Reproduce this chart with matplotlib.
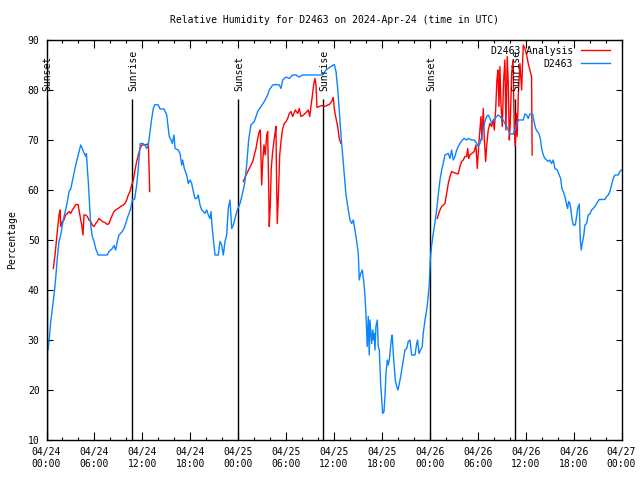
import matplotlib
matplotlib.use("Agg")
import matplotlib.pyplot as plt
from matplotlib.ticker import MultipleLocator

plt.rcParams['font.family'] = ['DejaVu Sans Mono']
plt.rcParams['font.size'] = 7

# hours since 2024-04-24 00:00 UTC
obs_hours = [
    0.19, 0.31, 0.53, 0.73, 0.94, 1.15, 1.35, 1.56, 1.78, 1.98, 2.19, 2.40, 2.60, 2.82,
    3.03, 3.23, 3.44, 3.66, 3.86, 4.07, 4.28, 4.48, 4.69, 4.91, 5.00, 5.11, 5.23, 5.53,
    5.73, 5.95, 6.16, 6.45, 7.61, 7.82, 8.24, 8.45, 8.66, 8.86, 9.08, 9.49, 9.70, 9.92,
    10.12, 10.33, 10.54, 10.74, 11.04, 11.29, 11.49, 11.74, 12.08, 12.33, 12.55, 12.75,
    12.96, 13.12, 13.27, 13.37, 13.58, 14.00, 14.21, 14.71, 15.05, 15.25, 15.37, 15.59,
    15.75, 15.96, 16.09, 16.50, 16.71, 16.93, 17.05, 17.25, 17.55, 17.75, 17.97, 18.18,
    18.38, 18.59, 18.80, 19.00, 19.22, 19.43, 19.63, 19.84, 20.06, 20.26, 20.47, 20.60,
    20.72, 20.88, 21.10, 21.51, 21.72, 21.93, 22.14, 22.35, 22.56, 22.76, 22.97, 23.19,
    23.39, 23.60, 23.89, 24.23, 24.64, 24.85, 25.06, 25.31, 25.60, 26.02, 26.44, 26.86,
    27.27, 27.69, 27.89, 28.32, 28.73, 29.15, 29.36, 29.57, 29.99, 30.40, 30.82, 31.24,
    31.60, 32.08, 32.49, 33.33, 33.95, 34.58, 34.99, 35.62, 36.03, 36.25, 36.46, 36.66,
    36.87, 37.08, 37.28, 37.50, 37.79, 38.00, 38.21, 38.41, 38.62, 38.84, 39.04, 39.16,
    39.34, 39.54, 39.75, 39.88, 40.00, 40.16, 40.29, 40.41, 40.50, 40.71, 40.84, 40.91,
    41.04, 41.13, 41.25, 41.42, 41.54, 41.67, 41.84, 41.97, 42.09, 42.26, 42.38, 42.51,
    42.67, 42.79, 42.92, 43.04, 43.17, 43.29, 43.42, 43.54, 43.67, 43.85, 44.01, 44.17,
    44.35, 44.51, 44.67, 44.88, 45.10, 45.30, 45.51, 45.72, 46.14, 46.35, 46.47, 46.64,
    46.85, 47.05, 47.17, 47.39, 47.60, 47.80, 47.93, 48.05, 48.23, 48.43, 48.64, 48.85,
    49.05, 49.27, 49.48, 49.68, 49.89, 50.31, 50.52, 50.73, 50.93, 51.14, 51.36, 51.56,
    51.77, 52.06, 52.31, 52.61, 52.81, 53.24, 53.56, 53.86, 54.06, 54.27, 54.49, 54.69,
    54.90, 55.11, 55.31, 55.53, 55.74, 55.94, 56.15, 56.36, 56.57, 56.78, 56.99, 57.19,
    57.40, 57.62, 57.82, 58.03, 58.44, 58.66, 58.87, 59.07, 59.28, 59.70, 59.91, 60.12,
    60.32, 60.53, 60.87, 61.04, 61.25, 61.45, 61.66, 61.87, 62.00, 62.20, 62.41, 62.63,
    62.83, 63.04, 63.25, 63.45, 63.66, 63.95, 64.20, 64.38, 64.54, 64.70, 64.92, 65.13,
    65.25, 65.38, 65.54, 65.67, 65.79, 65.96, 66.21, 66.38, 66.51, 66.71, 66.83, 66.96,
    67.08, 67.26, 67.42, 67.63, 67.83, 68.05, 68.26, 68.46, 68.67, 68.88, 69.21, 69.92,
    70.13, 70.34, 70.55, 70.76, 70.96, 71.18, 71.59, 71.80, 71.96,
]
obs_rh = [
    28.0, 29.7, 33.7, 36.4, 39.0, 42.4, 46.4, 49.7, 51.0, 53.0, 54.7, 56.0, 57.7, 59.7,
    60.2, 61.7, 63.4, 65.0, 66.3, 67.7, 69.0, 68.3, 67.4, 66.7, 67.3, 64.3, 61.7, 53.0,
    50.7, 49.7, 48.3, 47.0, 47.0, 47.7, 48.3, 48.9, 48.0, 49.7, 51.0, 51.7, 52.3, 53.3,
    54.4, 55.3, 56.3, 58.0, 58.2, 61.0, 64.3, 69.3, 69.3, 69.0, 68.3, 69.0,
    71.7, 73.7, 75.2, 76.3, 77.1, 77.0, 76.2, 76.2, 75.0, 72.3, 70.7, 70.0,
    69.3, 71.0, 68.3, 68.0, 67.3, 65.0, 66.0, 64.3, 63.0, 61.3, 62.0, 61.3,
    59.7, 58.3, 58.3, 59.0, 57.0, 56.0, 55.7, 55.3, 56.0, 55.0, 54.3, 55.7,
    53.0, 50.3, 47.0, 47.0, 49.7, 49.0, 47.0, 49.7, 51.0, 56.3, 58.0, 52.3,
    53.0, 54.3, 56.0, 57.3, 60.0, 61.7, 65.0, 70.0, 73.0, 73.7, 75.7, 76.7,
    77.7, 79.0, 80.0, 81.0, 81.1, 81.0, 80.3, 82.0, 82.6, 82.3, 83.0, 83.0,
    82.6, 83.0, 83.0, 83.0, 83.0, 83.0, 84.0, 84.7, 85.1, 83.7, 80.3, 75.7,
    71.0, 67.0, 63.0, 59.0, 56.0, 54.0, 53.3, 54.0, 52.0, 49.7, 47.3, 42.0,
    43.3, 44.0, 41.3, 38.7, 35.3, 28.7, 34.7, 27.0, 34.0, 29.3, 32.0, 30.0,
    31.3, 28.0, 32.7, 34.0, 28.7, 28.0, 21.3, 18.0, 15.3, 15.7, 18.7, 23.3,
    26.0, 25.0, 26.0, 28.0, 30.0, 31.0, 27.3, 24.7, 22.0, 20.7, 20.0, 21.3,
    22.7, 24.3, 26.0, 28.0, 28.3, 29.7, 30.0, 27.0, 27.0, 29.3, 30.0, 27.3,
    28.0, 28.7, 31.3, 34.0, 36.0, 38.7, 41.3, 46.0, 49.0, 51.3, 53.5, 56.0,
    59.0, 62.0, 64.0, 65.3, 67.0, 67.3, 66.3, 68.0, 66.0, 66.7, 68.0, 68.7,
    69.3, 70.0, 70.3, 70.0, 70.3, 70.0, 70.0, 69.3, 68.7, 69.3, 70.7, 72.3,
    73.7, 74.7, 75.0, 74.3, 73.3, 74.0, 74.3, 74.7, 75.0, 74.7, 74.3, 74.0,
    73.3, 72.7, 72.0, 71.2, 71.2, 72.0, 73.0, 74.0, 74.0, 74.0, 75.2, 75.0,
    74.3, 75.2, 75.2, 73.7, 72.3, 71.7, 71.3, 70.0, 68.3, 67.0, 66.3, 66.0,
    65.7, 66.0, 65.3, 66.0, 64.3, 64.0, 63.0, 62.3, 60.3, 59.7, 58.7, 57.0,
    56.3, 57.7, 57.3, 56.0, 54.3, 53.0, 53.0, 54.7, 56.3, 57.2, 50.3, 48.0,
    49.3, 50.7, 53.0, 53.3, 55.0, 55.2, 56.0, 56.3, 56.7, 57.3, 58.1, 58.1,
    58.7, 59.0, 59.7, 61.0, 62.3, 63.0, 63.0, 63.7, 64.0,
]

# analysis series, three separate runs
ana1_hours = [
    0.85, 1.06, 1.23, 1.35, 1.48, 1.56, 1.69, 1.78, 1.98, 2.19, 2.40, 2.60, 2.82, 3.03,
    3.23, 3.44, 3.66, 3.94, 4.07, 4.28, 4.41, 4.57, 4.69, 4.91, 5.11, 5.32, 5.53, 5.73,
    5.95, 6.16, 6.36, 6.57, 6.79, 6.99, 7.29, 7.61, 7.83, 8.04, 8.24, 8.45, 8.66, 8.95,
    9.29, 9.62, 9.83, 10.04, 10.24, 10.45, 10.62, 10.87, 11.08, 11.29, 11.49, 11.71,
    11.92, 12.21, 12.55, 12.75, 12.83, 12.92,
]
ana1_rh = [
    44.3, 47.0, 49.7, 51.7, 53.7, 55.0, 56.0, 52.7, 53.7, 54.0, 55.0, 55.3, 55.7, 55.3,
    56.0, 56.5, 57.1, 57.1, 56.0, 54.0, 53.0, 51.0, 55.0, 55.0, 54.7, 54.0, 53.7, 53.0,
    52.7, 53.3, 53.7, 54.3, 54.0, 53.7, 53.5, 53.1, 53.3, 54.2, 55.0, 55.7, 56.0, 56.3,
    56.7, 57.0, 57.3, 58.0, 59.0, 59.7, 60.7, 62.0, 64.0, 65.7, 67.0, 68.3,
    69.0, 69.0, 69.1, 69.3, 65.0, 59.7,
]
ana2_hours = [
    24.64, 24.98, 25.39, 25.82, 26.02, 26.23, 26.44, 26.64, 26.77, 26.94, 27.07, 27.23,
    27.39, 27.57, 27.69, 27.82, 27.89, 28.02, 28.14, 28.32, 28.52, 28.65, 28.73, 28.82,
    28.90, 29.02, 29.20, 29.36, 29.57, 29.77, 29.99, 30.20, 30.40, 30.61, 30.82, 31.15,
    31.45, 31.65, 31.86, 32.20, 32.49, 32.78, 32.96, 33.08, 33.24, 33.45, 33.62, 33.74,
    33.87, 34.15, 34.49, 34.78, 35.08, 35.41, 35.71, 35.91, 36.03, 36.25, 36.46, 36.66,
    36.87,
]
ana2_rh = [
    61.7, 63.0, 64.3, 65.7, 67.0, 68.3, 70.3, 71.7, 72.0, 61.0, 65.7, 69.0,
    67.0, 71.0, 71.7, 60.3, 52.7, 57.0, 64.3, 67.7, 70.3, 71.7, 72.7, 60.3,
    53.3, 58.3, 67.0, 69.7, 72.3, 73.3, 73.7, 74.3, 75.3, 75.7, 74.7, 76.0,
    75.3, 76.3, 74.7, 75.0, 75.5, 76.0, 74.7, 76.3, 78.3, 81.0, 82.3, 81.0,
    76.5, 76.7, 76.9, 76.7, 76.9, 77.1, 77.7, 78.5, 76.3, 74.3, 72.7, 70.3,
    69.3,
]
ana3_hours = [
    48.93, 49.05, 49.27, 49.48, 49.68, 49.89, 50.11, 50.31, 50.52, 50.73, 50.93, 51.36,
    51.56, 51.77, 51.98, 52.18, 52.40, 52.61, 52.74, 52.86, 53.02, 53.24, 53.56, 53.77,
    53.94, 54.11, 54.27, 54.40, 54.52, 54.69, 54.81, 54.99, 55.11, 55.31, 55.53, 55.74,
    55.94, 56.07, 56.24, 56.40, 56.53, 56.65, 56.78, 56.90, 57.07, 57.24, 57.40, 57.53,
    57.69, 57.82, 57.95, 58.07, 58.24, 58.41, 58.57, 58.69, 58.82, 58.94, 59.07, 59.28,
    59.49, 59.70, 59.91, 60.12, 60.32, 60.53, 60.74, 60.81,
]
ana3_rh = [
    54.3, 55.0, 56.0, 56.7, 57.0, 57.3, 59.3, 61.3, 62.7, 63.7, 63.5, 63.3,
    63.2, 64.7, 65.7, 66.0, 66.7, 66.7, 68.3, 66.3, 67.0, 67.3, 67.7, 69.0,
    64.3, 68.7, 72.0, 74.7, 70.0, 76.3, 70.7, 65.7, 68.7, 72.0, 73.3, 72.7,
    74.0, 72.0, 76.0, 82.0, 84.0, 76.7, 84.7, 77.3, 72.7, 82.0, 86.0, 72.0,
    86.7, 81.3, 70.0, 73.3, 83.3, 86.0, 72.0, 68.7, 75.3, 70.7, 78.7, 85.3,
    80.0, 89.0, 88.3, 87.0, 85.3, 84.0, 82.7, 67.0,
]

sunset_hours = [0.0, 24.0, 48.0]
sunrise_hours = [10.73, 34.65, 58.67]

tick_hours = list(range(0, 73, 6))
tick_labels = ["04/24\n00:00", "04/24\n06:00", "04/24\n12:00", "04/24\n18:00",
               "04/25\n00:00", "04/25\n06:00", "04/25\n12:00", "04/25\n18:00",
               "04/26\n00:00", "04/26\n06:00", "04/26\n12:00", "04/26\n18:00",
               "04/27\n00:00"]

fig = plt.figure(figsize=(6.4, 4.8), dpi=100)
ax = fig.add_axes([0.0727, 0.0833, 0.8984, 0.8334])

# sunrise / sunset markers
for h in sunset_hours:
    ax.vlines(h, 10, 78.2, color='black', lw=1)
    ax.text(h + 0.15, 79.7, "Sunset", rotation=90, ha='center', va='bottom')
for h in sunrise_hours:
    ax.vlines(h, 10, 78.2, color='black', lw=1)
    ax.text(h + 0.15, 79.7, "Sunrise", rotation=90, ha='center', va='bottom')

red = '#ff0000'
blue = '#0a84ff'
ax.plot(ana1_hours, ana1_rh, color=red, lw=1, label="D2463 Analysis")
ax.plot(ana2_hours, ana2_rh, color=red, lw=1)
ax.plot(ana3_hours, ana3_rh, color=red, lw=1)
ax.plot(obs_hours, obs_rh, color=blue, lw=1, label="D2463")

ax.set_xlim(0, 72)
ax.set_ylim(10, 90)
ax.set_xticks(tick_hours)
ax.set_xticklabels(tick_labels)
ax.xaxis.set_minor_locator(MultipleLocator(2))
ax.set_yticks(range(10, 91, 10))
ax.tick_params(which='major', direction='in', top=True, right=True, length=6, width=0.8, pad=5)
ax.tick_params(which='minor', direction='in', top=True, right=False, length=2.5, width=0.8)
ax.tick_params(axis='y', length=4)
for s in ax.spines.values():
    s.set_linewidth(1)

ax.set_ylabel("Percentage", labelpad=8)
ax.set_title("Relative Humidity for D2463 on 2024-Apr-24 (time in UTC)", fontsize=7, pad=12)

ax.legend(loc='upper right', bbox_to_anchor=(0.98, 0.986), frameon=False,
          markerfirst=False, handlelength=3.0, borderaxespad=0, borderpad=0,
          labelspacing=0.3, handletextpad=0.8)

fig.savefig("out.png", dpi=100)
